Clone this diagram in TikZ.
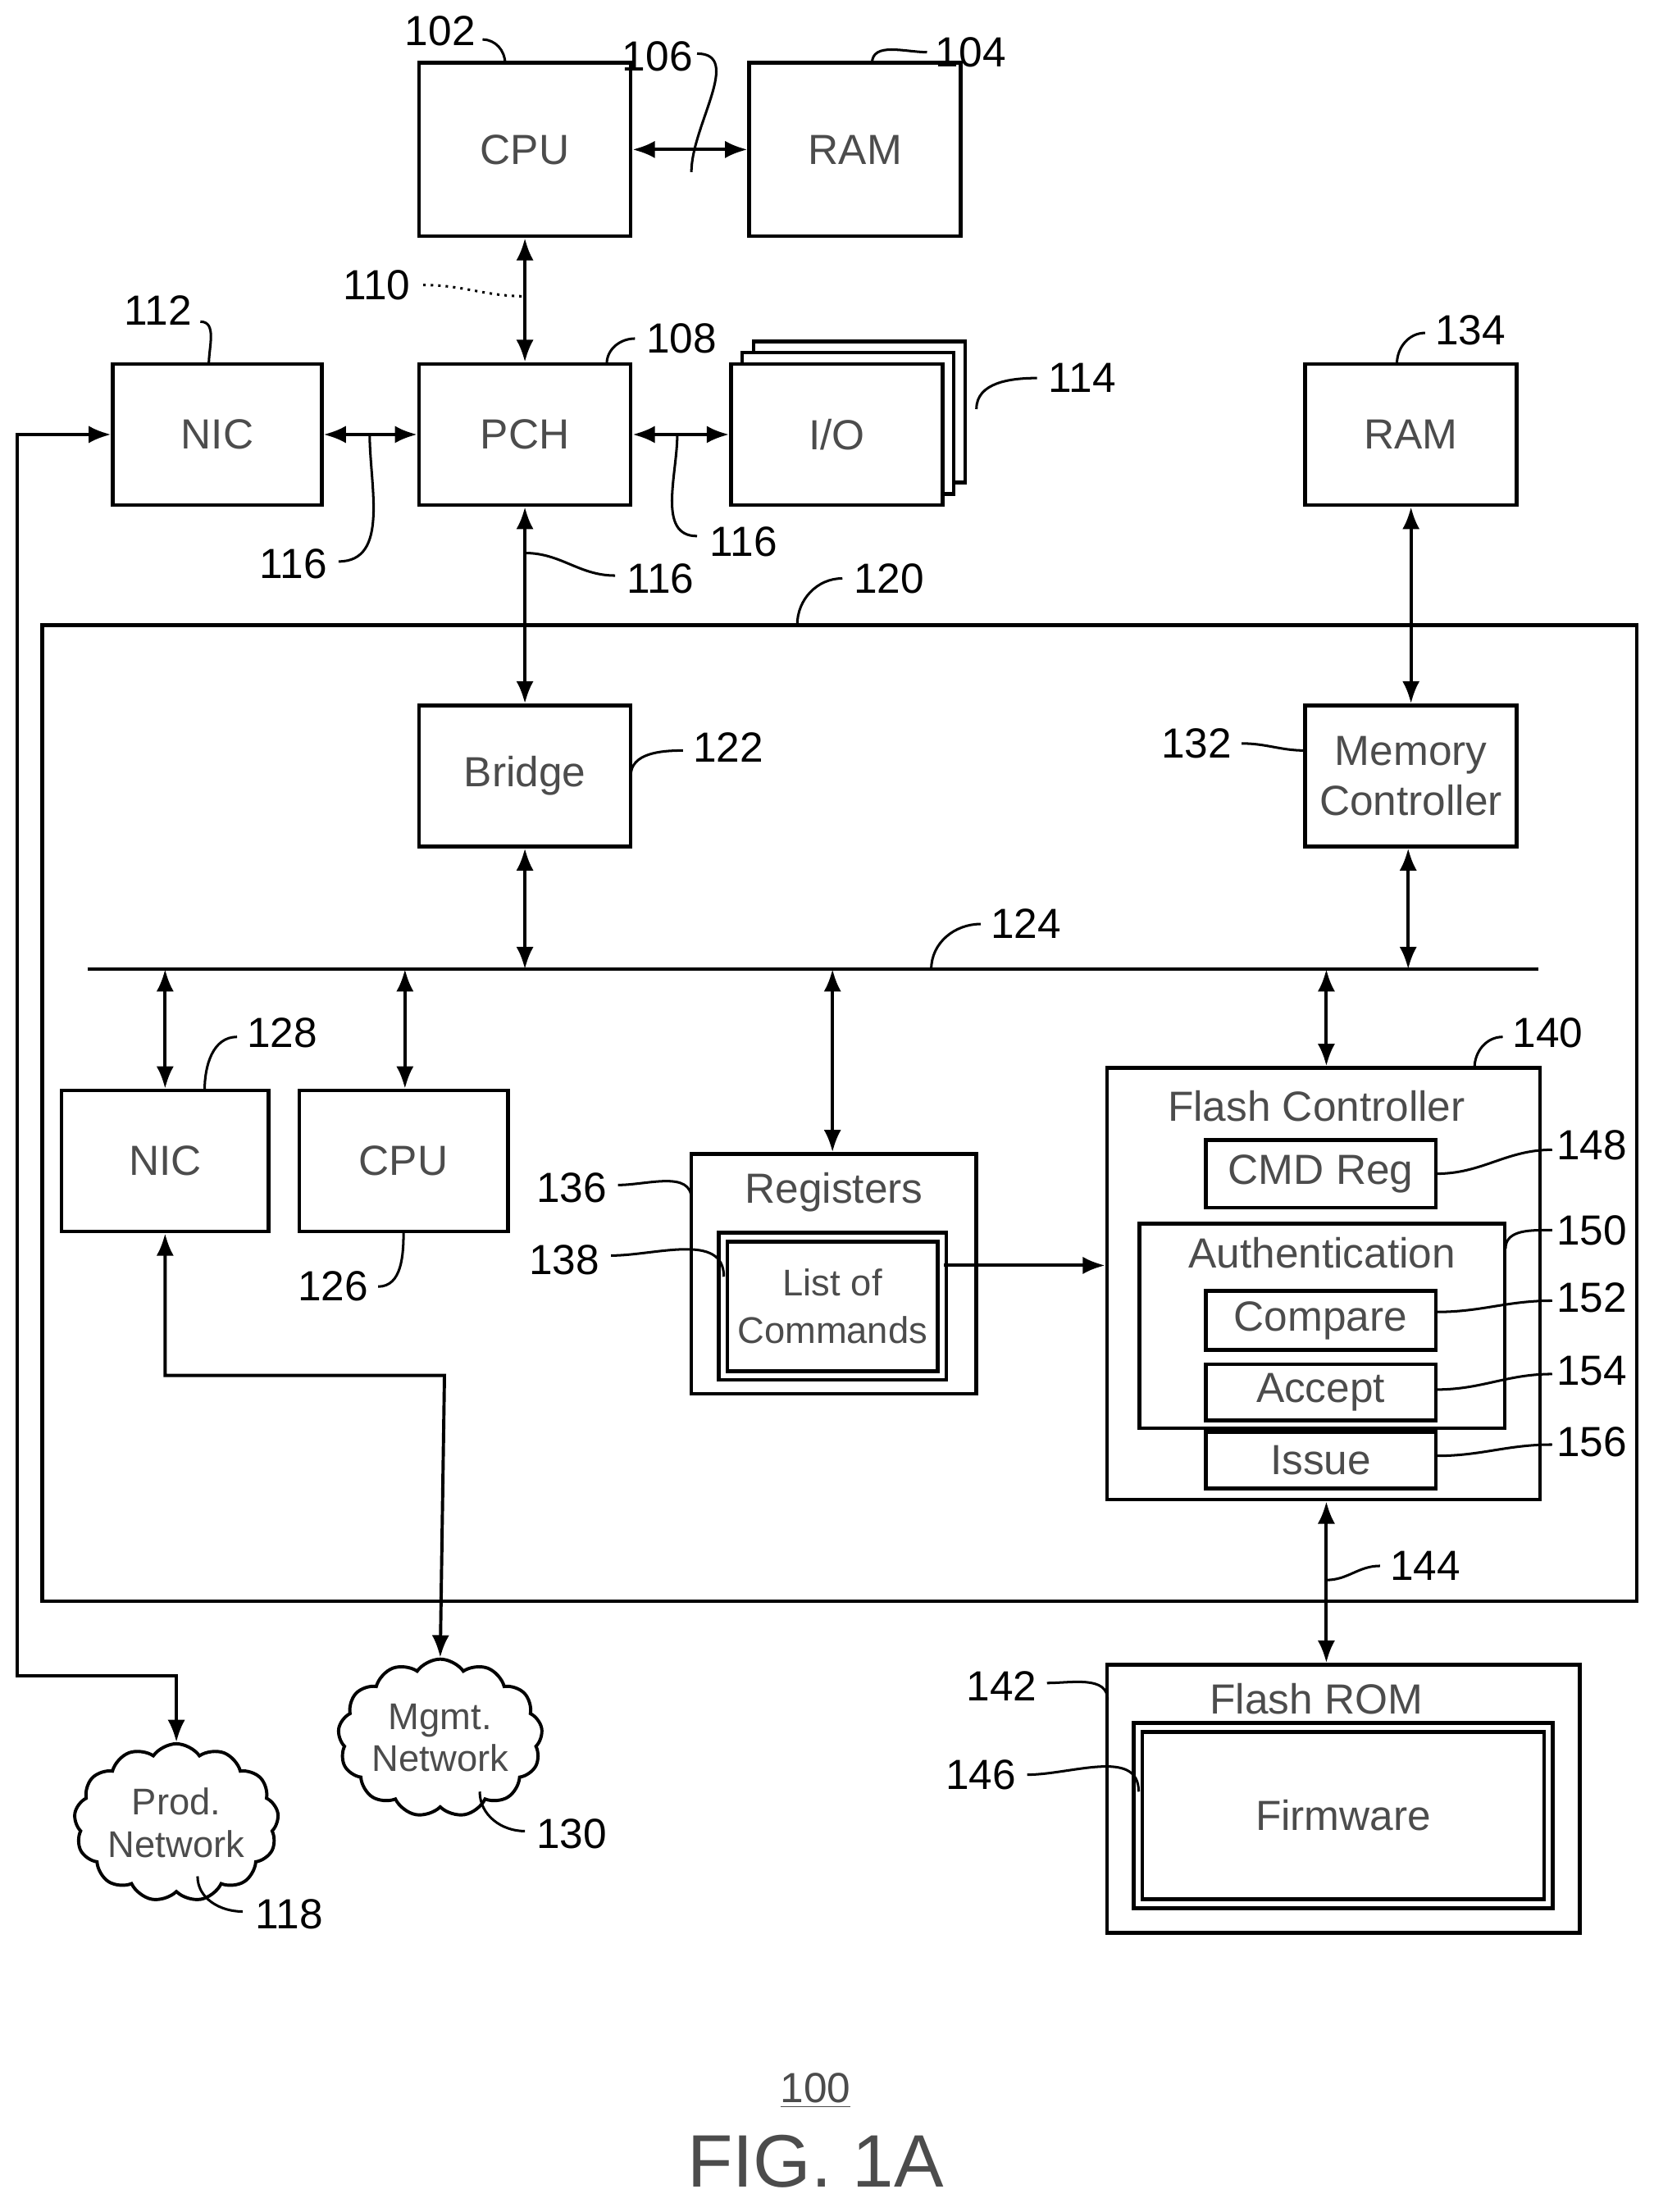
\documentclass[tikz,border=0pt]{standalone}
\usepackage{fontspec}
\setmainfont{Liberation Sans}
\usetikzlibrary{shapes.symbols,arrows.meta}
\begin{document}
\begin{tikzpicture}
		[x=0.02cm,y=-0.02cm,line width=1.3pt,
		%Styles
		box/.style={draw,line width=1.5pt,inner sep=0pt,font=\fontsize{17}{20}\selectfont,text=black!70,align=center},
		link/.style={{Latex[length=9pt,width=7pt]}-{Latex[length=9pt,width=7pt]}},
		tag/.style={font=\fontsize{17}{20}\selectfont},
		lead/.style={line width=1pt},
		cloudy/.style={cloud,draw,cloud puffs=13,cloud puff arc=110,aspect=1.4,inner sep=0pt,font=\fontsize{15}{17}\selectfont,align=center,text=black!70}
		]
		\useasboundingbox (0,0) rectangle (1172,1568);
		
		%Top level
		\node[box,minimum width=3cm,minimum height=2.46cm] (cpu) at (372,106) {CPU};
		\node[box,minimum width=3cm,minimum height=2.46cm] (ram) at (606,106) {RAM};
		\node[box,minimum width=2.96cm,minimum height=2cm] (nic) at (154,308) {NIC};
		\node[box,minimum width=3cm,minimum height=2cm] (pch) at (372,308) {PCH};
		\draw[line width=1.5pt,fill=white] (534,242) rectangle (684,342);
		\draw[line width=1.5pt,fill=white] (526,250) rectangle (676,350);
		\node[box,fill=white,minimum width=3cm,minimum height=2cm] (io) at (593,308) {I/O};
		\node[box,minimum width=3cm,minimum height=2cm] (ramb) at (1000,308) {RAM};
		
		%Main board
		\draw[line width=1.5pt] (30,443) rectangle (1160,1135);
		\node[box,minimum width=3cm,minimum height=2cm] (bridge) at (372,550) {Bridge};
		\node[box,minimum width=3cm,minimum height=2cm] (mc) at (1000,550) {Memory\\Controller};
		\draw[line width=1.5pt] (62,687) -- (1090,687);
		\coordinate (b1) at (117,687); \coordinate (b2) at (287,687); \coordinate (b3) at (590,687);
		\coordinate (b4) at (940,687); \coordinate (b5) at (998,687); \coordinate (b6) at (372,687);
		\node[box,minimum width=2.94cm,minimum height=2cm] (nicb) at (117,823) {NIC};
		\node[box,minimum width=2.96cm,minimum height=2cm] (cpub) at (286,823) {CPU};
		\node[box,minimum width=4.04cm,minimum height=3.4cm] (regs) at (591,903) {};
		\node[tag,text=black!70] at (591,845) {Registers};
		\node[box,double,double distance=2pt,minimum width=3.1cm,minimum height=1.96cm,font=\fontsize{15}{19}\selectfont] (list) at (590,926) {List of\\Commands};
		\node[box,minimum width=6.14cm,minimum height=6.12cm] (flash) at (938,910) {};
		\node[tag,text=black!70] at (933,784) {Flash Controller};
		\node[box,minimum width=3.26cm,minimum height=0.96cm] (cmd) at (936,832) {CMD Reg};
		\node[box,minimum width=5.18cm,minimum height=2.9cm] (auth) at (937,940) {};
		\node[tag,text=black!70] at (937,888) {Authentication};
		\node[box,minimum width=3.26cm,minimum height=0.84cm] (cmp) at (936,936) {Compare};
		\node[box,minimum width=3.26cm,minimum height=0.8cm] (acc) at (936,987) {Accept};
		\node[box,minimum width=3.26cm,minimum height=0.8cm] (iss) at (936,1035) {Issue};
		
		%Below
		\node[box,minimum width=6.7cm,minimum height=3.8cm] (rom) at (952,1275) {};
		\node[tag,text=black!70] at (933,1204) {Flash ROM};
		\node[box,double,double distance=2pt,minimum width=5.82cm,minimum height=2.5cm] (fw) at (952,1287) {Firmware};
		\node[cloudy,minimum width=2.6cm,minimum height=1.7cm] (prod) at (125,1292) {Prod.\\Network};
		\node[cloudy,minimum width=2.4cm,minimum height=1.5cm] (mgmt) at (312,1232) {Mgmt.\\Network};
		
		%Connectors
		\draw[link] (cpu) -- (ram);
		\draw[link] (cpu) -- (pch);
		\draw[link] (nic) -- (pch);
		\draw[link] (pch) -- (io);
		\draw[link] (pch) -- (bridge);
		\draw[link] (ramb) -- (mc);
		\draw[link] (bridge) -- (b6);
		\draw[link] (mc.south -| b5) -- (b5);
		\draw[link] (b1) -- (nicb);
		\draw[link] (b2) -- (cpub.north -| b2);
		\draw[link] (b3) -- (regs.north -| b3);
		\draw[link] (b4) -- (flash.north -| b4);
		\draw[-{Latex[length=9pt,width=7pt]}] (list.east |- 0,897) -- (flash.west |- 0,897);
		\draw[link] (flash.south -| b4) -- (rom.north -| b4);
		\draw[link] (nic.west) -| (12,1188) -| (prod.north);
		\draw[link] (nicb.south) |- (315,975) -- (mgmt.north);
		
		%Reference numbers
		\node[tag] (n102) at (312,22) {102}; \draw[lead] (342,28) to[out=0,in=90] (358,45);
		\node[tag] (n104) at (688,37) {104}; \draw[lead] (657,37) to[out=180,in=90] (618,45);
		\node[tag] (n106) at (466,40) {106}; \draw[lead] (494,38) to[out=0,in=90] (490,122);
		\node[tag] (n110) at (267,202) {110}; \draw[lead,dotted] (300,202) to[out=0,in=180] (372,210);
		\node[tag] (n108) at (483,240) {108}; \draw[lead] (450,240) to[out=180,in=90] (430,258);
		\node[tag] (n112) at (112,220) {112}; \draw[lead] (142,228) to[out=0,in=90] (148,258);
		\node[tag] (n114) at (767,268) {114}; \draw[lead] (735,268) to[out=180,in=90] (692,290);
		\node[tag] (n134) at (1042,234) {134}; \draw[lead] (1010,236) to[out=180,in=90] (990,258);
		\node[tag] (n116a) at (208,400) {116}; \draw[lead] (240,398) to[out=0,in=-90] (262,308);
		\node[tag] (n116b) at (527,384) {116}; \draw[lead] (494,380) to[out=180,in=-90] (480,308);
		\node[tag] (n116c) at (468,410) {116}; \draw[lead] (436,408) to[out=180,in=0] (372,392);
		\node[tag] (n120) at (630,410) {120}; \draw[lead] (597,410) to[out=180,in=90] (565,443);
		\node[tag] (n122) at (516,530) {122}; \draw[lead] (484,532) to[out=180,in=90] (447,550);
		\node[tag] (n132) at (848,527) {132}; \draw[lead] (880,527) to[out=0,in=180] (925,532);
		\node[tag] (n124) at (727,655) {124}; \draw[lead] (695,655) to[out=180,in=90] (660,687);
		\node[tag] (n128) at (200,732) {128}; \draw[lead] (168,735) to[out=180,in=90] (145,773);
		\node[tag] (n126) at (236,912) {126}; \draw[lead] (268,912) to[out=0,in=-90] (286,873);
		\node[tag] (n140) at (1097,732) {140}; \draw[lead] (1065,735) to[out=180,in=90] (1045,757);
		\node[tag] (n136) at (405,842) {136}; \draw[lead] (438,840) to[out=0,in=90] (490,850);
		\node[tag] (n138) at (400,893) {138}; \draw[lead] (433,890) to[out=0,in=90] (513,905);
		\node[tag] (n148) at (1128,812) {148}; \draw[lead] (1100,815) to[out=180,in=0] (1018,832);
		\node[tag] (n150) at (1128,872) {150}; \draw[lead] (1100,872) to[out=180,in=90] (1067,885);
		\node[tag] (n152) at (1128,920) {152}; \draw[lead] (1100,922) to[out=180,in=0] (1018,930);
		\node[tag] (n154) at (1128,972) {154}; \draw[lead] (1100,974) to[out=180,in=0] (1018,985);
		\node[tag] (n156) at (1128,1022) {156}; \draw[lead] (1100,1024) to[out=180,in=0] (1018,1032);
		\node[tag] (n144) at (1010,1110) {144}; \draw[lead] (978,1110) to[out=180,in=0] (940,1120);
		\node[tag] (n142) at (710,1195) {142}; \draw[lead] (742,1193) to[out=0,in=90] (785,1205);
		\node[tag] (n146) at (695,1258) {146}; \draw[lead] (728,1258) to[out=0,in=90] (807,1270);
		\node[tag] (n130) at (405,1300) {130}; \draw[lead] (372,1298) to[out=180,in=-90] (340,1270);
		\node[tag] (n118) at (205,1357) {118}; \draw[lead] (172,1355) to[out=180,in=-90] (140,1330);
		
		%Caption
		\node[tag,text=black!70] (n100) at (578,1482) {\underline{100}};
		\node[font=\fontsize{30}{34}\selectfont,text=black!70] (fig) at (578,1532) {FIG. 1A};
	\end{tikzpicture}
\end{document}
